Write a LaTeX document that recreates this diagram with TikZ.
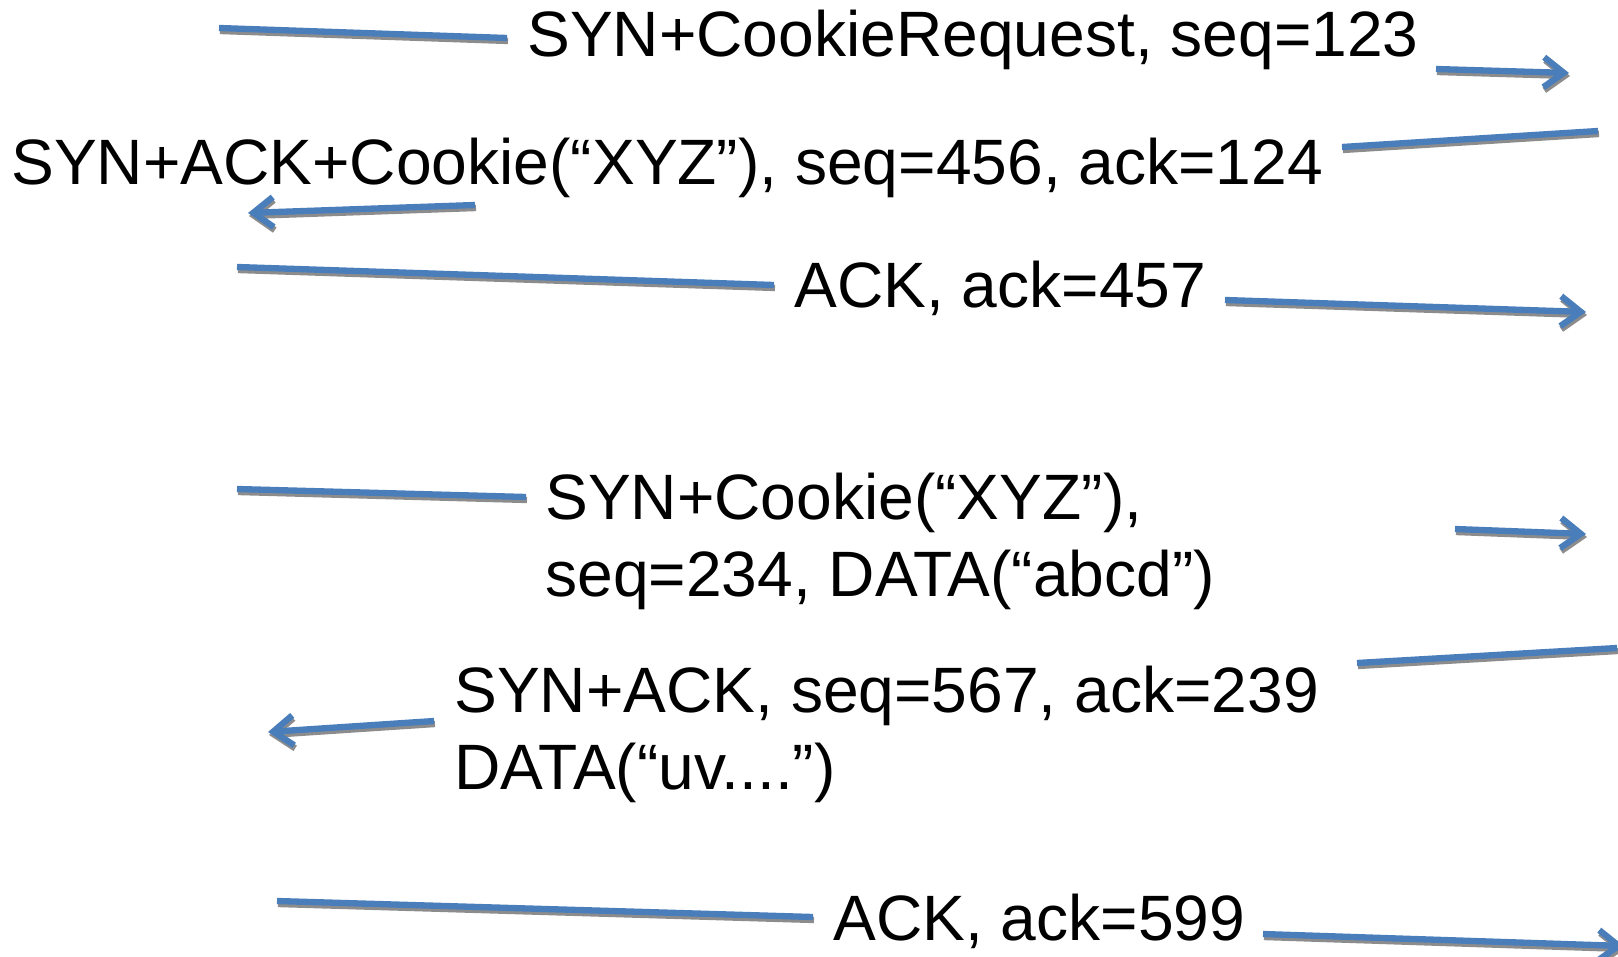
\documentclass[tikz,border=0pt]{standalone}
\usepackage{fontspec}
\setmainfont{Liberation Sans}
\usetikzlibrary{arrows.meta}

\definecolor{msgblue}{HTML}{4A7EBB}
\definecolor{msgshadow}{HTML}{8C8C8C}

\tikzset{
    msg/.style={draw=msgblue, line width=3.6pt},
    msgshade/.style={draw=msgshadow, line width=3.6pt},
    barb/.style={-{Straight Barb[length=0.4cm,width=0.6cm]}},
    msgtext/.style={anchor=base west, inner sep=0pt, align=left,
        font=\fontsize{36.5}{43.8}\selectfont}
}

\begin{document}
\begin{tikzpicture}[x=0.02cm,y=-0.02cm]
    \useasboundingbox (0,0) rectangle (1618,956);

    % segment end points, left part (a,b) and right part (c,d) of each message
    \coordinate (m1a) at (219,28);   \coordinate (m1b) at (507,38);
    \coordinate (m1c) at (1436,69);  \coordinate (m1d) at (1569,73);
    \coordinate (m2a) at (248,213);  \coordinate (m2b) at (475,205);
    \coordinate (m2c) at (1342,147); \coordinate (m2d) at (1598,131);
    \coordinate (m3a) at (237,267);  \coordinate (m3b) at (774,285);
    \coordinate (m3c) at (1225,300); \coordinate (m3d) at (1586,312);
    \coordinate (m4a) at (237,489);  \coordinate (m4b) at (526,497);
    \coordinate (m4c) at (1455,529); \coordinate (m4d) at (1586,534);
    \coordinate (m5a) at (268,732);  \coordinate (m5b) at (434,721);
    \coordinate (m5c) at (1357,663); \coordinate (m5d) at (1617,648);
    \coordinate (m6a) at (277,901);  \coordinate (m6b) at (813,917);
    \coordinate (m6c) at (1263,934); \coordinate (m6d) at (1624,946);

    % message texts (two-line ones sit on their last baseline)
    \node[msgtext] (m1) at (527,57) {SYN+CookieRequest, seq=123};
    \node[msgtext] (m2) at (11,185) {SYN+ACK+Cookie(“XYZ”), seq=456, ack=124};
    \node[msgtext] (m3) at (794,307) {ACK, ack=457};
    \node[msgtext] (m4) at (545,596) {SYN+Cookie(“XYZ”),\\seq=234, DATA(“abcd”)};
    \node[msgtext] (m5) at (454,789) {SYN+ACK, seq=567, ack=239\\DATA(“uv....”)};
    \node[msgtext] (m6) at (833,940) {ACK, ack=599};

    % tails, grey shade first
    \foreach \s/\e in {m1a/m1b, m2d/m2c, m3a/m3b, m4a/m4b, m5d/m5c, m6a/m6b}
        {\draw[msgshade] ([shift={(1,3)}]\s) -- ([shift={(1,3)}]\e);
         \draw[msg] (\s) -- (\e);}
    % heads
    \foreach \s/\e in {m1c/m1d, m2b/m2a, m3c/m3d, m4c/m4d, m5b/m5a, m6c/m6d}
        {\draw[msgshade,barb] ([shift={(1,3)}]\s) -- ([shift={(1,3)}]\e);
         \draw[msg,barb] (\s) -- (\e);}
\end{tikzpicture}
\end{document}
